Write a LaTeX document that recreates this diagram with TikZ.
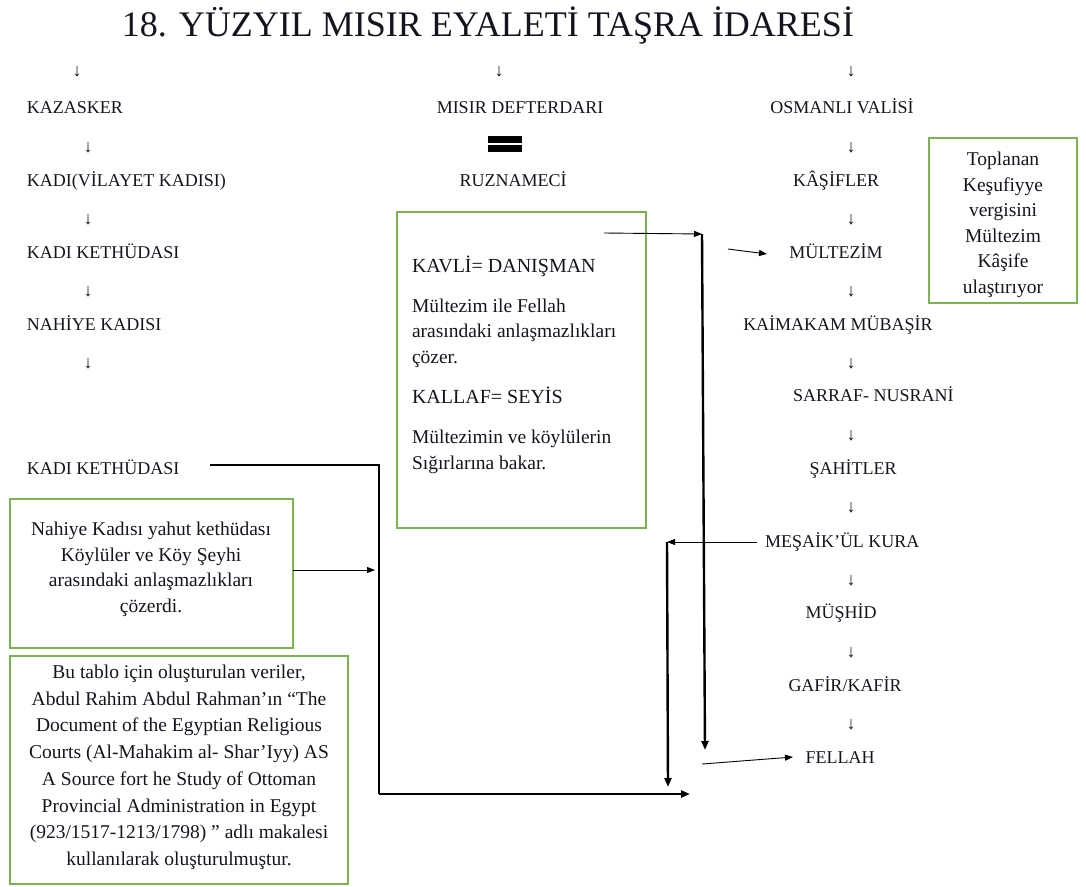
\documentclass[tikz,border=0pt]{standalone}
\usepackage{fontspec}
\setmainfont{Liberation Serif}
\usetikzlibrary{arrows.meta}
\definecolor{boxgreen}{RGB}{122,180,82}
\definecolor{txt}{RGB}{20,20,30}
\begin{document}
\begin{tikzpicture}[x=1pt,y=-1pt,
  every node/.style={inner sep=0pt,outer sep=0pt,text=txt},
  lbl/.style={font=\fontsize{18}{21}\selectfont,anchor=base},
  lblw/.style={font=\fontsize{18}{21}\selectfont,anchor=base west},
  darr/.style={font=\fontsize{18}{21}\selectfont},
  gbox/.style={draw=boxgreen,line width=1.5pt,anchor=north west},
  btxt/.style={font=\fontsize{19.5}{25.6}\selectfont,align=center,anchor=north},
  mtxt/.style={font=\fontsize{19.5}{25.6}\selectfont,align=left,anchor=north west},
  mhead/.style={font=\fontsize{20}{24}\selectfont,anchor=base west},
  thin/.style={line width=0.9pt,-{Triangle[length=8pt,width=6pt]}},
  thick/.style={line width=2.4pt,-{Triangle[length=9pt,width=7pt]}},
  thickline/.style={line width=2.4pt}]
\useasboundingbox (0,0) rectangle (1086,886);
% title
\node[anchor=base,font=\fontsize{36}{40}\selectfont] (title) at (488,36) {18. YÜZYIL MISIR EYALETİ TAŞRA İDARESİ};
% top arrows
\node[darr] (ta1) at (77,72) {↓};
\node[darr] (ta2) at (499,72) {↓};
\node[darr] (ta3) at (851,72) {↓};
% left column
\node[lblw] (kazasker) at (27,113) {KAZASKER};
\node[darr] (la1) at (88,148) {↓};
\node[lblw] (kadi) at (27,186) {KADI(VİLAYET KADISI)};
\node[darr] (la2) at (88,220) {↓};
\node[lblw] (kethuda1) at (27,258) {KADI KETHÜDASI};
\node[darr] (la3) at (88,292) {↓};
\node[lblw] (nahiye) at (27,330) {NAHİYE KADISI};
\node[darr] (la4) at (88,364) {↓};
\node[lblw] (kethuda2) at (27,474) {KADI KETHÜDASI};
% middle column
\node[lbl] (defterdar) at (520,113) {MISIR DEFTERDARI};
\fill[black] (488,136) rectangle (522,143);
\fill[black] (488,145) rectangle (522,152);
\node[lbl] (ruzname) at (513,186) {RUZNAMECİ};
% right column
\node[lbl] (vali) at (842,113) {OSMANLI VALİSİ};
\node[darr] (ra1) at (851,148) {↓};
\node[lbl] (kasif) at (836,186) {KÂŞİFLER};
\node[darr] (ra2) at (851,220) {↓};
\node[lbl] (multezim) at (836,258) {MÜLTEZİM};
\node[darr] (ra3) at (851,292) {↓};
\node[lbl] (kaimakam) at (838,330) {KAİMAKAM MÜBAŞİR};
\node[darr] (ra4) at (851,364) {↓};
\node[lblw] (sarraf) at (793,401) {SARRAF- NUSRANİ};
\node[darr] (ra5) at (851,436) {↓};
\node[lbl] (sahit) at (853,474) {ŞAHİTLER};
\node[darr] (ra6) at (851,508) {↓};
\node[lblw] (mesaik) at (765,547) {MEŞAİK’ÜL KURA};
\node[darr] (ra7) at (851,581) {↓};
\node[lbl] (mushid) at (841,618) {MÜŞHİD};
\node[darr] (ra8) at (851,653) {↓};
\node[lbl] (gafir) at (845,691) {GAFİR/KAFİR};
\node[darr] (ra9) at (851,725) {↓};
\node[lbl] (fellah) at (840,763) {FELLAH};
% right box
\node[gbox,minimum width=148pt,minimum height=165pt] (rbox) at (929,138) {};
\node[btxt] (rtext) at (1003,152) {Toplanan\\Keşufiyye\\vergisini\\Mültezim\\Kâşife\\ulaştırıyor};
% middle box
\node[gbox,minimum width=249pt,minimum height=316pt] (mbox) at (397,212) {};
\node[mhead] (kavli) at (412,272) {KAVLİ= DANIŞMAN};
\node[mtxt] (kavlitxt) at (412,298.7) {Mültezim ile Fellah\\arasındaki anlaşmazlıkları\\çözer.};
\node[mhead] (kallaf) at (412,403) {KALLAF= SEYİS};
\node[mtxt,font=\fontsize{19.5}{26}\selectfont] (kallaftxt) at (412,429.7) {Mültezimin ve köylülerin\\Sığırlarına bakar.};
% left middle box
\node[gbox,minimum width=283pt,minimum height=149pt] (lbox) at (10,499) {};
\node[btxt] (ltext) at (151,522) {Nahiye Kadısı yahut kethüdası\\Köylüler ve Köy Şeyhi\\arasındaki anlaşmazlıkları\\çözerdi.};
% bottom box
\node[gbox,minimum width=338pt,minimum height=228pt] (bbox) at (10,656) {};
\node[btxt,font=\fontsize{19.5}{26.7}\selectfont] (btext) at (179,665) {Bu tablo için oluşturulan veriler,\\Abdul Rahim Abdul Rahman’ın “The\\Document of the Egyptian Religious\\Courts (Al-Mahakim al- Shar’Iyy) AS\\A Source fort he Study of Ottoman\\Provincial Administration in Egypt\\(923/1517-1213/1798) ” adlı makalesi\\kullanılarak oluşturulmuştur.};
% connectors
\coordinate (k2s) at (210,465);
\coordinate (k2c) at (379,465);
\coordinate (k2d) at (379,794);
\coordinate (k2e) at (690,794);
\draw[thickline] (k2s) -- (k2c) -- (k2d);
\draw[thick] (k2d) -- (k2e);
\coordinate (lbs) at (293,570);
\coordinate (la) at (375,570);
\draw[thin] (lbs) -- (la);
\coordinate (ms) at (604,233);
\coordinate (mc) at (702,234);
\coordinate (md) at (705,750);
\draw[thin] (ms) -- (mc);
\draw[thick] (mc) -- (md);
\coordinate (mul1) at (728,249);
\coordinate (mul2) at (767,254);
\draw[thin] (mul1) -- (mul2);
\coordinate (mks) at (757,542);
\coordinate (mk) at (667,542);
\coordinate (mkd) at (668,787);
\draw[thin] (mks) -- (mk);
\draw[thick] (mk) -- (mkd);
\coordinate (fs) at (702,764);
\coordinate (fe) at (793,757);
\draw[thin] (fs) -- (fe);
\end{tikzpicture}
\end{document}
